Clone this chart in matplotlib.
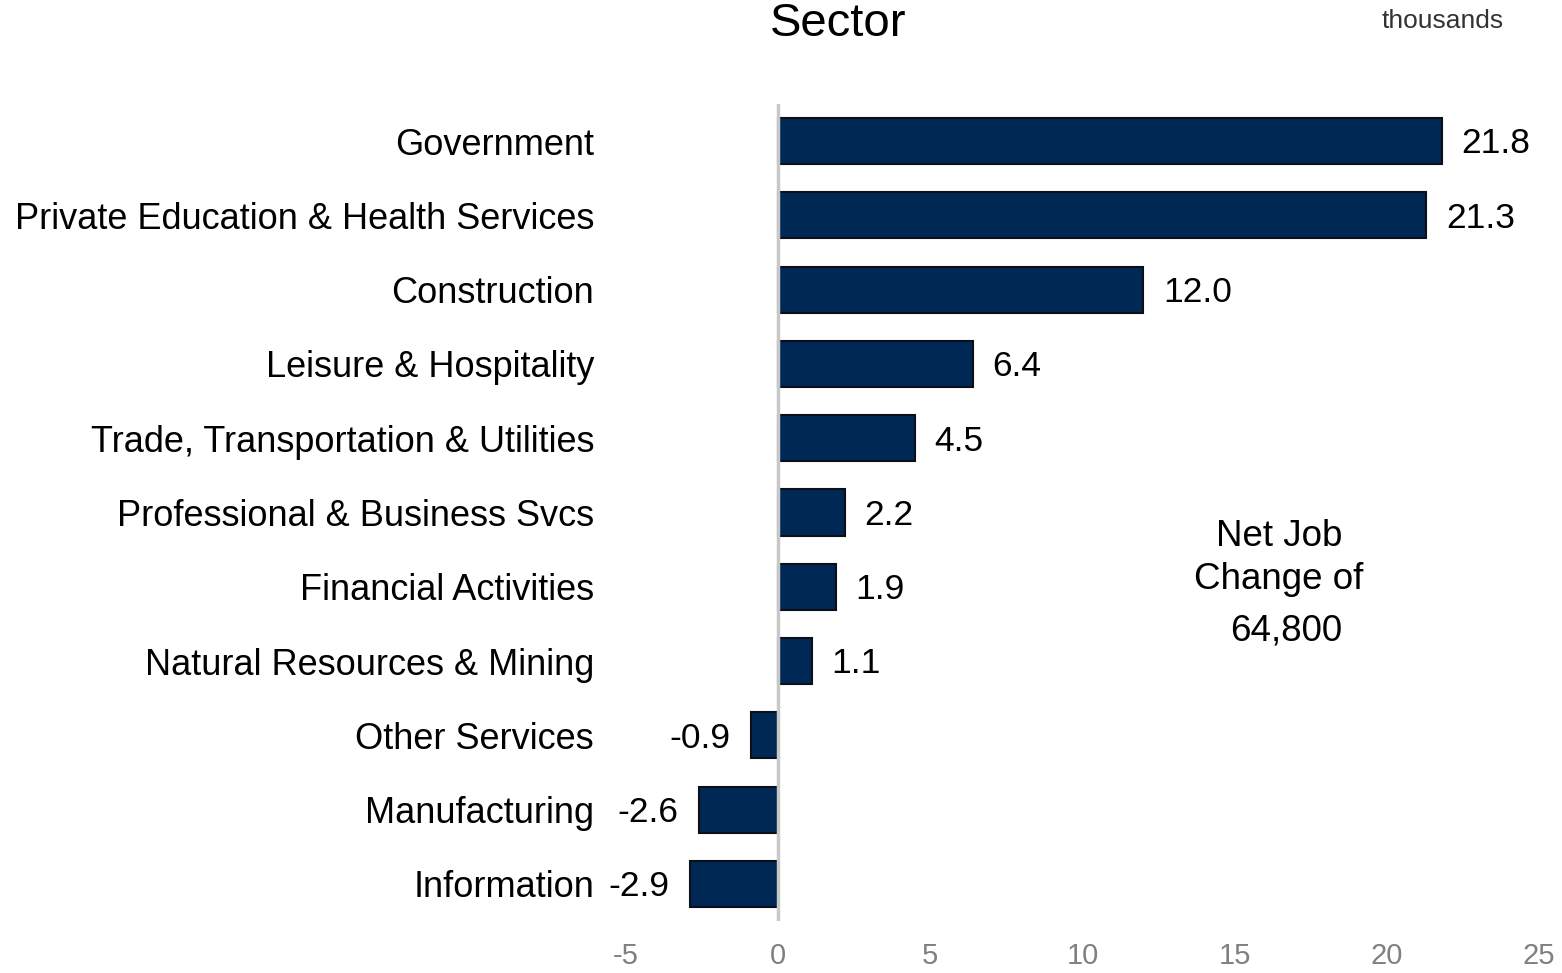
import numpy as np
import matplotlib.pyplot as plt

plt.rcParams['font.family'] = ['Liberation Sans', 'DejaVu Sans']

sectors = ['Government', 'Private Education & Health Services', 'Construction',
           'Leisure & Hospitality', 'Trade, Transportation & Utilities',
           'Professional & Business Svcs', 'Financial Activities',
           'Natural Resources & Mining', 'Other Services', 'Manufacturing',
           'Information']
changes = [21.8, 21.3, 12.0, 6.4, 4.5, 2.2, 1.9, 1.1, -0.9, -2.6, -2.9]
xticks = [-5, 0, 5, 10, 15, 20, 25]

fig = plt.figure(figsize=(15.62, 9.73), dpi=100)
ax = fig.add_axes([626/1562, 1-921/973, (1539-626)/1562, (921-104)/973])

y = np.arange(len(sectors))
ax.barh(y, changes, height=0.62, color='#002855', edgecolor='#0a0f1a', linewidth=1.5, zorder=2)
ax.axvline(0, color='#c8c8c8', linewidth=2.5, zorder=3)

for yi, v in zip(y, changes):
    if v >= 0:
        ax.annotate(f'{v:.1f}', (v, yi), xytext=(14, -2), textcoords='offset points',
                    ha='left', va='center', fontsize=25.5)
    else:
        ax.annotate(f'{v:.1f}', (v, yi), xytext=(-15, -2), textcoords='offset points',
                    ha='right', va='center', fontsize=25.5)

ax.set_xlim(-5, 25)
ax.set_ylim(len(sectors) - 0.5, -0.5)
ax.set_yticks(y)
ax.set_yticklabels(sectors, fontsize=26)
ax.set_xticks(xticks)
ax.set_xticklabels([str(t) for t in xticks], fontsize=21, color='#808080')
ax.tick_params(axis='y', length=0, pad=23)
ax.tick_params(axis='x', length=0, pad=15)
for s in ax.spines.values():
    s.set_visible(False)

fig.text(838/1562, 1-36/973, 'Sector', ha='center', va='baseline', fontsize=34)
fig.text(1443/1562, 1-21/973, 'thousands', ha='center', va='center', fontsize=19, color='#333333')

ax.text(16.45, 5.32, 'Net Job', ha='center', va='center', fontsize=26.5)
ax.text(16.45, 5.9, 'Change of', ha='center', va='center', fontsize=26.5)
ax.text(16.7, 6.6, '64,800', ha='center', va='center', fontsize=26.5)

fig.savefig('out.png', dpi=100)
